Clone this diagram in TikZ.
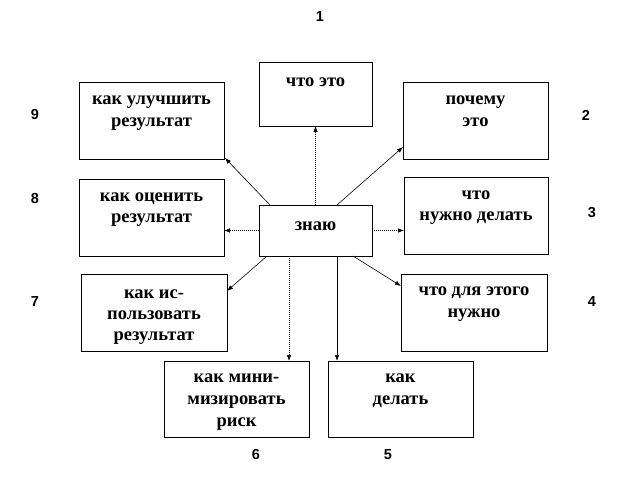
\documentclass[tikz,border=0pt]{standalone}
\usepackage{fontspec}
\setmainfont{Liberation Serif}
\newfontfamily\numfont{Liberation Sans}
\usetikzlibrary{arrows.meta,calc}
\tikzset{
  box/.style={draw=black, line width=0.8pt, rectangle, inner sep=0pt, outer sep=0pt},
  lbl/.style={anchor=base, inner sep=0pt, font=\bfseries\fontsize{18.5}{22}\selectfont},
  num/.style={anchor=center, inner sep=0pt, font=\numfont\bfseries\fontsize{14.5}{17}\selectfont},
  conn/.style={line width=0.6pt, -{Latex[length=6pt,width=4.5pt]}},
  dconn/.style={conn, dash pattern=on 1pt off 1pt}
}
\begin{document}
\begin{tikzpicture}[x=1pt,y=-1pt]
\useasboundingbox (0,0) rectangle (628,481);
% boxes (centre, size)
\node[box, minimum width=113pt, minimum height=64pt] (b1) at (315.5,94) {};
\node[box, minimum width=145pt, minimum height=77pt] (b9) at (151.5,120.5) {};
\node[box, minimum width=145pt, minimum height=77pt] (b2) at (475.5,120.5) {};
\node[box, minimum width=145pt, minimum height=77pt] (b8) at (151.5,217.5) {};
\node[box, minimum width=113pt, minimum height=51pt] (c) at (315.5,230.5) {};
\node[box, minimum width=144pt, minimum height=77pt] (b3) at (476,215.5) {};
\node[box, minimum width=146pt, minimum height=77pt] (b7) at (154,312.5) {};
\node[box, minimum width=146pt, minimum height=77pt] (b4) at (474,312.5) {};
\node[box, minimum width=145pt, minimum height=76pt] (b6) at (236.5,399) {};
\node[box, minimum width=145pt, minimum height=76pt] (b5) at (400.5,399) {};
% texts
\node[lbl] (t1) at (315.5,87) {что это};
\node[lbl] (t9a) at (151.5,105) {как улучшить};
\node[lbl] (t9b) at (151.5,127) {результат};
\node[lbl] (t2a) at (475.5,105) {почему};
\node[lbl] (t2b) at (475.5,127) {это};
\node[lbl] (t8a) at (151.5,201) {как оценить};
\node[lbl] (t8b) at (151.5,222) {результат};
\node[lbl] (tc) at (315.5,230) {знаю};
\node[lbl] (t3a) at (476,199) {что};
\node[lbl] (t3b) at (476,220) {нужно делать};
\node[lbl] (t7a) at (154,298) {как ис-};
\node[lbl] (t7b) at (154,319) {пользовать};
\node[lbl] (t7c) at (154,340) {результат};
\node[lbl] (t4a) at (474,295) {что для этого};
\node[lbl] (t4b) at (474,317) {нужно};
\node[lbl] (t6a) at (236.5,382) {как мини-};
\node[lbl] (t6b) at (236.5,404) {мизировать};
\node[lbl] (t6c) at (236.5,426) {риск};
\node[lbl] (t5a) at (400.5,382) {как};
\node[lbl] (t5b) at (400.5,404) {делать};
% numbers
\node[num] (n1) at (320,17) {1};
\node[num] (n2) at (586,115) {2};
\node[num] (n3) at (592,213) {3};
\node[num] (n4) at (592,302) {4};
\node[num] (n5) at (388,455) {5};
\node[num] (n6) at (256,455) {6};
\node[num] (n7) at (35,302) {7};
\node[num] (n8) at (35,199) {8};
\node[num] (n9) at (35,115) {9};
% connectors
\coordinate (s9) at ([xshift=11pt]c.north west);
\coordinate (s2) at ([xshift=-35pt]c.north east);
\coordinate (s7) at ([xshift=8pt]c.south west);
\coordinate (s6) at ([xshift=30pt]c.south west);
\coordinate (s5) at ([xshift=-35pt]c.south east);
\coordinate (s4) at ([xshift=-19pt]c.south east);
\draw[dconn] (c.north) -- (b1.south);
\draw[conn] (s9) -- ([shift={(1pt,1pt)}]b9.south east);
\draw[conn] (s2) -- ([yshift=12pt]b2.south west);
\draw[dconn] (c.west) -- (c.west -| b8.east);
\draw[dconn] (c.east) -- (c.east -| b3.west);
\draw[conn] (s7) -- ([yshift=-17pt]b7.north east);
\draw[dconn] (s6) -- (s6 |- b6.north);
\draw[conn] (s5) -- (s5 |- b5.north);
\draw[conn] (s4) -- ([yshift=-12pt]b4.north west);
\end{tikzpicture}
\end{document}
